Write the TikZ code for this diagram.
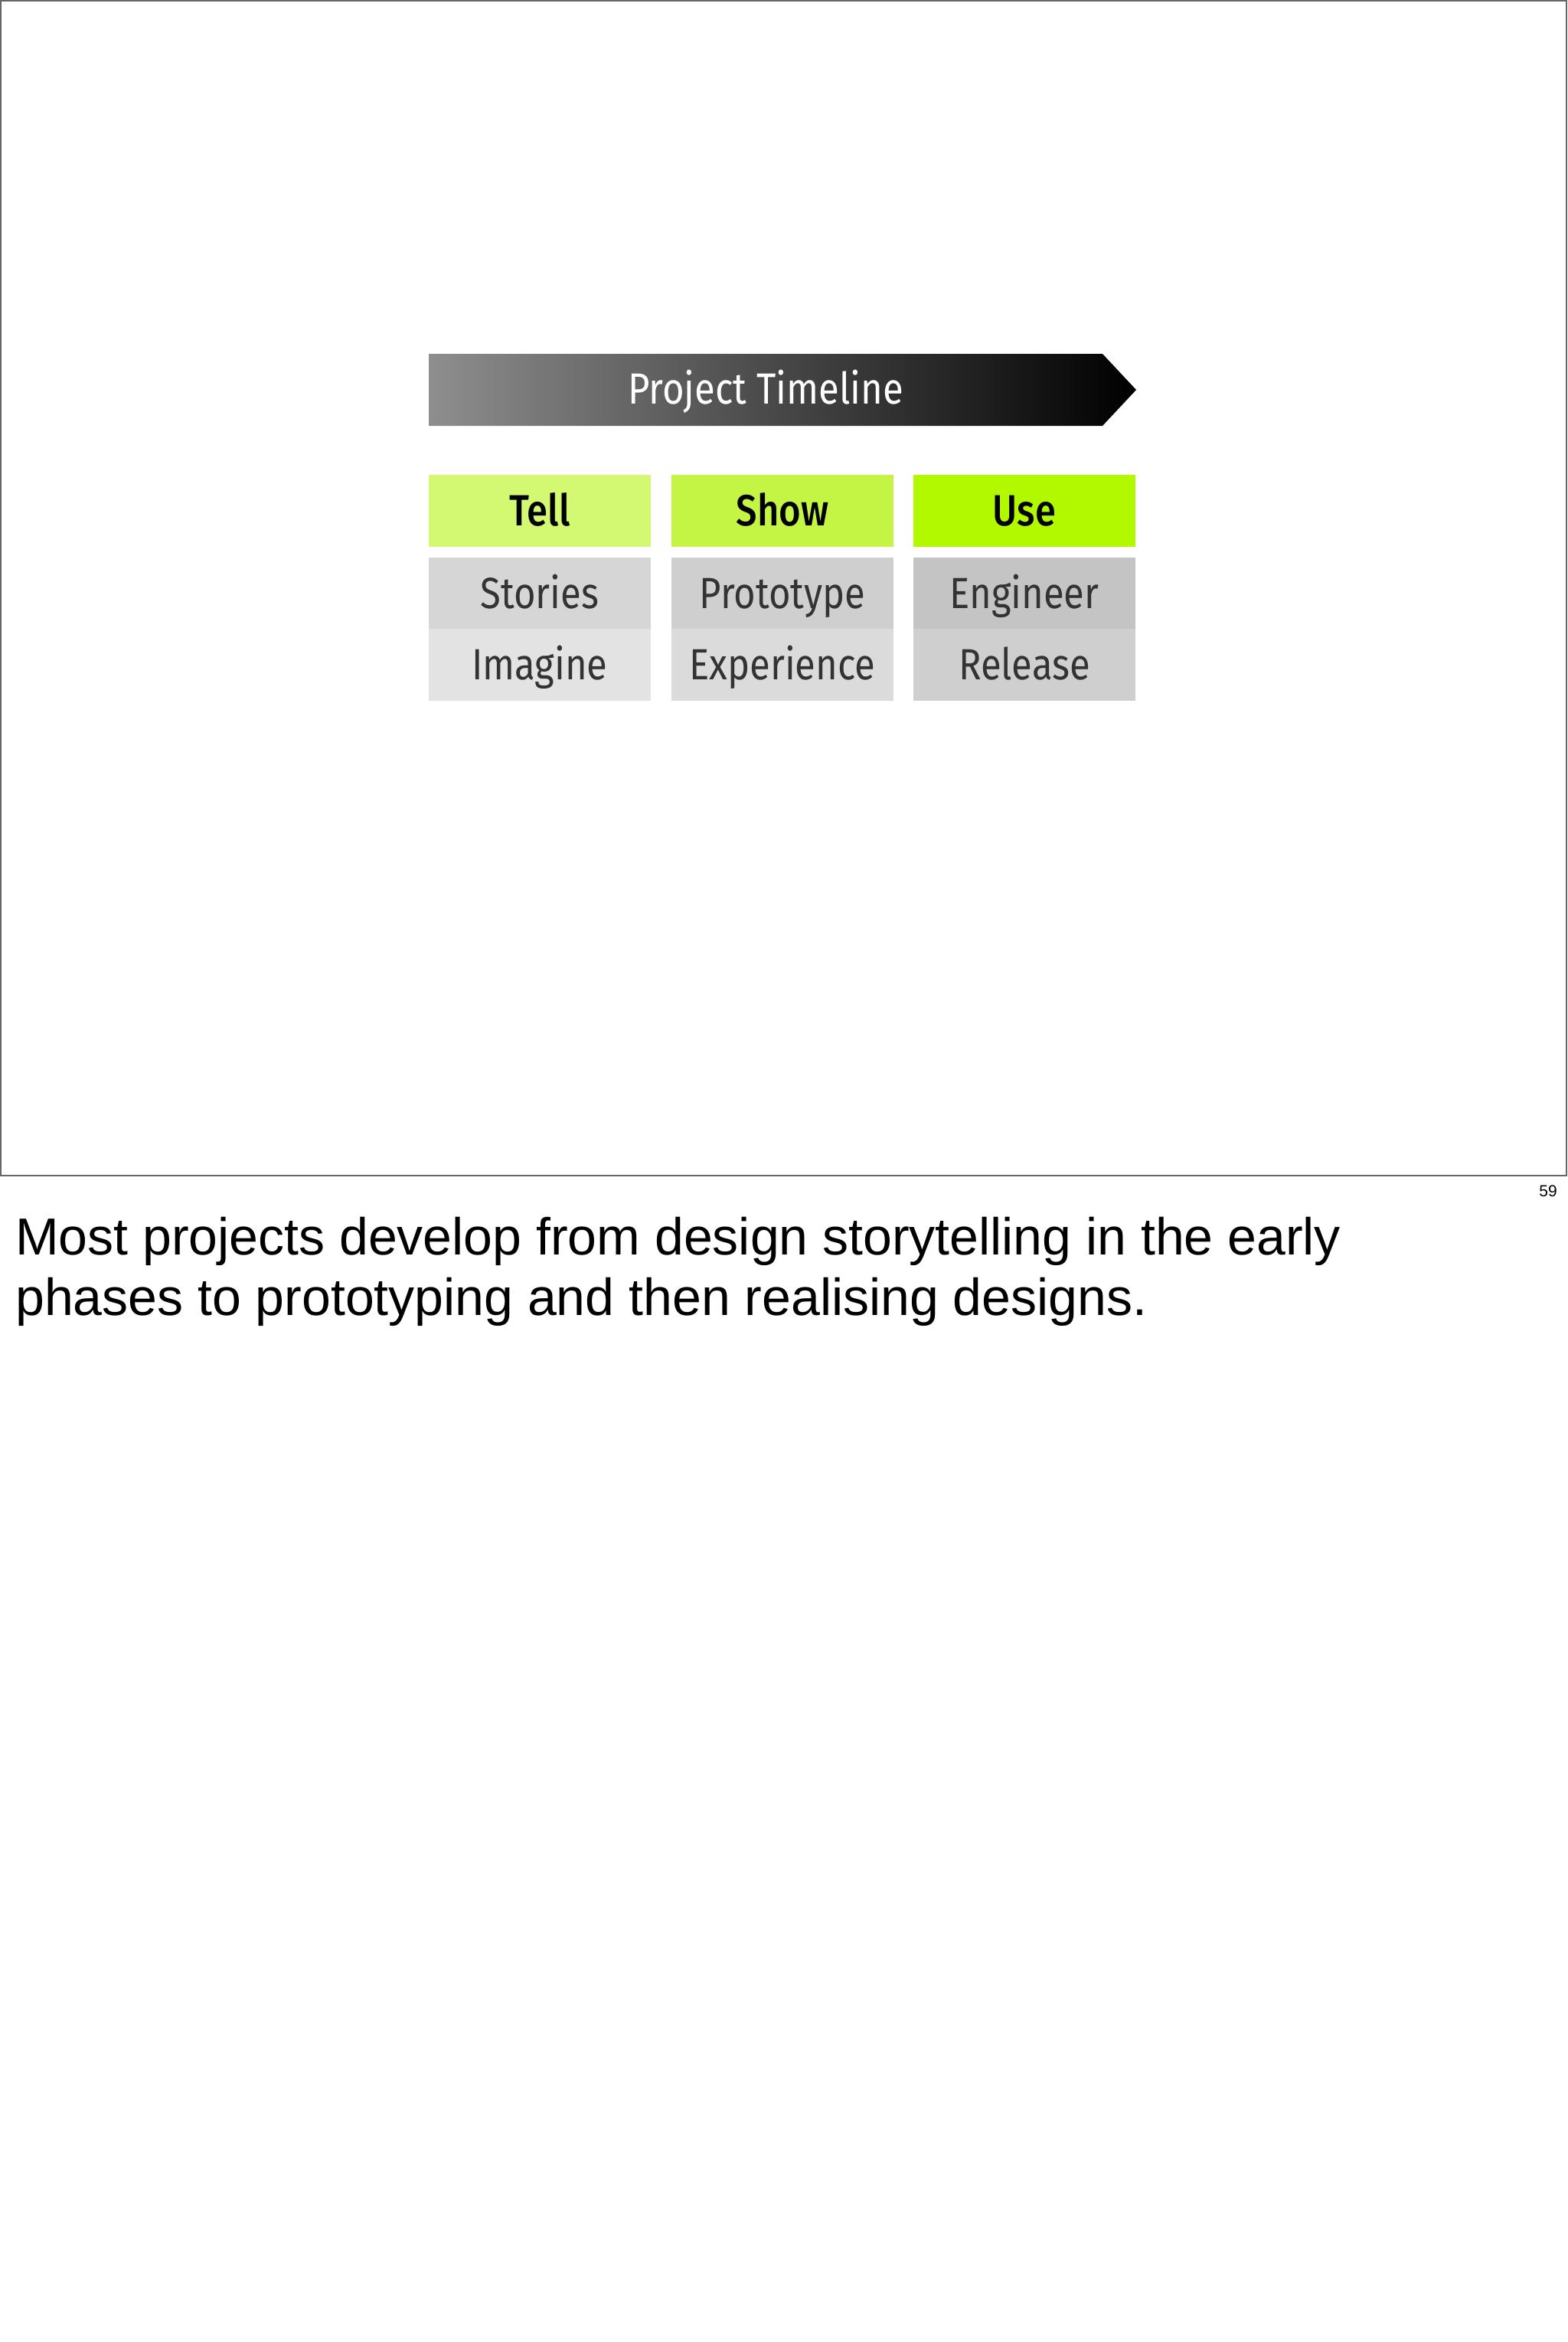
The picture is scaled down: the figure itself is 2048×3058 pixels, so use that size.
\documentclass[tikz,border=0pt]{standalone}
\usepackage{fontspec}
\usepackage{xcolor}
\usepackage{tikz}
\setmainfont{Liberation Sans}
\newfontfamily\boxfont[FakeStretch=0.86, BoldFont={Fira Sans Medium}, BoldFeatures={FakeStretch=0.86}]{Fira Sans}
\definecolor{framegray}{HTML}{666666}
\definecolor{arrowgray}{HTML}{8E8E8E}
\definecolor{tellgreen}{HTML}{D3F871}
\definecolor{showgreen}{HTML}{C4F545}
\definecolor{usegreen}{HTML}{B2F900}
\definecolor{celltext}{HTML}{333333}

\begin{document}
\begin{tikzpicture}[x=1pt, y=-1pt]
  \tikzstyle{head} = [minimum width=290pt, minimum height=94pt, inner sep=0pt, text height=39pt, text depth=0pt, font=\boxfont\bfseries\fontsize{57}{68}\selectfont]
  \tikzstyle{cell} = [minimum width=290pt, minimum height=93.5pt, inner sep=0pt, text height=39pt, text depth=0pt, text=celltext, font=\boxfont\fontsize{57}{68}\selectfont]
  \tikzstyle{caption} = [anchor=base west, inner sep=0pt, font=\fontsize{68}{80}\selectfont]

  \useasboundingbox (0,0) rectangle (2048,3058);
  \fill[white] (0,0) rectangle (2048,3058);
  \draw[framegray, line width=2pt] (1,1) rectangle (2046,1535);

  \shade[left color=arrowgray, right color=black] (560,462) -- (1440,462) -- (1484,509) -- (1440,556) -- (560,556) -- cycle;
  \node[text=white, inner sep=0pt, text height=39pt, text depth=0pt, font=\boxfont\fontsize{57}{68}\selectfont] (timeline) at (1000,508) {Project Timeline};

  \node[head, fill=tellgreen] (tell) at (705,667) {Tell};
  \node[head, fill=showgreen] (show) at (1022,667) {Show};
  \node[head, fill=usegreen] (use) at (1338,667) {Use};

  \node[cell, fill=black!16] (stories) at (705,774.5) {Stories};
  \node[cell, fill=black!19] (prototype) at (1022,774.5) {Prototype};
  \node[cell, fill=black!23] (engineer) at (1338,774.5) {Engineer};

  \node[cell, fill=black!11] (imagine) at (705,868) {Imagine};
  \node[cell, fill=black!14] (experience) at (1022,868) {Experience};
  \node[cell, fill=black!19] (release) at (1338,868) {Release};

  \node[anchor=base east, inner sep=0pt, font=\fontsize{21}{25}\selectfont] (page) at (2034,1562) {59};

  \node[caption] (line1) at (20,1638) {Most projects develop from design storytelling in the early};
  \node[caption] (line2) at (20,1717) {phases to prototyping and then realising designs.};
\end{tikzpicture}
\end{document}
